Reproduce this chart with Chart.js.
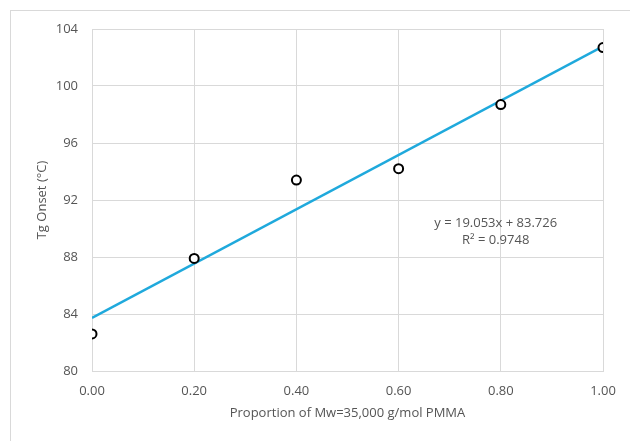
<!DOCTYPE html>
<html>
<head>
<meta charset="utf-8">
<script src="https://cdn.jsdelivr.net/npm/chart.js@4"></script>
<style>
  html, body { margin: 0; padding: 0; background: #fff; }
  #wrap { position: relative; width: 630px; height: 441px; }
</style>
</head>
<body>
<div id="wrap"><canvas id="chart" width="630" height="441"></canvas></div>
<script>
// --- data ---
const proportions = [0.0, 0.2, 0.4, 0.6, 0.8, 1.0];
const tgOnset = [82.6, 87.9, 93.4, 94.2, 98.7, 102.7];
const fitSlope = 19.053;
const fitIntercept = 83.726;
const fitLabel = ["y = 19.053x + 83.726", "R\u00b2 = 0.9748"];
const xTitle = "Proportion of Mw=35,000 g/mol PMMA";
const yTitle = "Tg Onset (\u00b0C)";

const TEXT = "#555555";
const GRID = "#d9d9d9";
const FONT = "'Open Sans', sans-serif";

const fitPoints = [0, 1].map((x) => ({ x, y: fitSlope * x + fitIntercept }));

// outer frame + equation text
const extras = {
  id: "extras",
  beforeDraw(c) {
    const ctx = c.ctx;
    ctx.save();
    ctx.strokeStyle = GRID;
    ctx.lineWidth = 1;
    ctx.strokeRect(10.5, 10.5, 700, 500);
    ctx.restore();
  },
  afterDatasetsDraw(c) {
    const ctx = c.ctx;
    const xs = c.scales.x, ys = c.scales.y;
    const cx = xs.getPixelForValue(0.79);
    const cy = ys.getPixelForValue(90.4);
    ctx.save();
    ctx.fillStyle = TEXT;
    ctx.font = "13px " + FONT;
    ctx.textAlign = "center";
    ctx.textBaseline = "middle";
    ctx.fillText(fitLabel[0], cx, cy);
    ctx.fillText(fitLabel[1], cx, cy + 17);
    ctx.restore();
  },
};

new Chart(document.getElementById("chart"), {
  type: "scatter",
  data: {
    datasets: [
      {
        label: "Tg onset",
        data: proportions.map((x, i) => ({ x, y: tgOnset[i] })),
        pointRadius: 4.5,
        pointBorderWidth: 2,
        pointBorderColor: "#000",
        pointBackgroundColor: "#fff",
        order: 1,
      },
      {
        label: "Linear fit",
        data: fitPoints,
        showLine: true,
        pointRadius: 0,
        borderColor: "#1fa9dc",
        borderWidth: 2.5,
        order: 2,
      },
    ],
  },
  options: {
    animation: false,
    responsive: false,
    devicePixelRatio: 1,
    layout: { padding: { left: 34, right: 27, top: 29, bottom: 20 } },
    plugins: { legend: { display: false }, tooltip: { enabled: false } },
    scales: {
      x: {
        type: "linear",
        min: 0,
        max: 1,
        afterFit: (s) => { s.height = 50; },
        ticks: {
          stepSize: 0.2,
          color: TEXT,
          font: { family: FONT, size: 13 },
          padding: 12,
          callback: (v) => v.toFixed(2),
        },
        grid: { color: GRID, drawTicks: false },
        border: { color: GRID },
        title: {
          display: true,
          text: xTitle,
          color: TEXT,
          font: { family: FONT, size: 13 },
          padding: { top: 0, bottom: 0 },
        },
      },
      y: {
        min: 80,
        max: 104,
        afterFit: (s) => { s.width = 58; },
        ticks: {
          stepSize: 4,
          color: TEXT,
          font: { family: FONT, size: 13 },
          padding: 14,
        },
        grid: { color: GRID, drawTicks: false },
        border: { color: GRID },
        title: {
          display: true,
          text: yTitle,
          color: TEXT,
          font: { family: FONT, size: 13 },
          padding: { top: 0, bottom: 0 },
        },
      },
    },
  },
  plugins: [extras],
});
</script>
</body>
</html>
